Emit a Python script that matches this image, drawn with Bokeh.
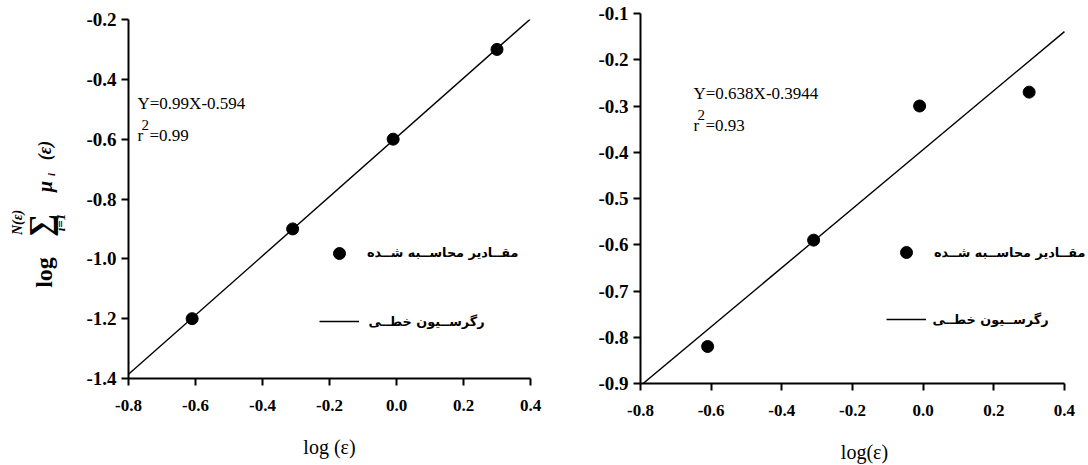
import math
from bokeh.plotting import figure
from bokeh.layouts import row, column
from bokeh.models import Range1d, Label, Legend, LegendItem, FixedTicker
from bokeh.embed import file_html
from bokeh.resources import INLINE

# ---------------- data ----------------
log_eps = [-0.61, -0.31, -0.01, 0.30]
left_vals = [-1.20, -0.90, -0.60, -0.30]
right_vals = [-0.82, -0.59, -0.30, -0.27]

left_slope, left_intercept = 0.99, -0.594
right_slope, right_intercept = 0.638, -0.3944

x_ticks = [-0.8, -0.6, -0.4, -0.2, 0.0, 0.2, 0.4]
left_y_ticks = [-1.4, -1.2, -1.0, -0.8, -0.6, -0.4, -0.2]
right_y_ticks = [-0.9, -0.8, -0.7, -0.6, -0.5, -0.4, -0.3, -0.2, -0.1]

left_eq = "Y=0.99X-0.594"
left_r2 = "=0.99"
right_eq = "Y=0.638X-0.3944"
right_r2 = "=0.93"
legend_points = "مقــادیر محاســبه شــده"
legend_line = "رگرســیون خطــی"
left_xlabel = "log (ε)"
right_xlabel = "log(ε)"

SERIF = "Liberation Serif"
ARABIC = "DejaVu Sans"


def style(p, xlabel, y_ticks):
    p.xgrid.visible = False
    p.ygrid.visible = False
    p.outline_line_color = None
    p.background_fill_color = "white"
    p.border_fill_color = "white"
    for ax in (p.xaxis[0], p.yaxis[0]):
        ax.axis_line_width = 2
        ax.axis_line_color = "black"
        ax.major_tick_line_width = 2
        ax.major_tick_line_color = "black"
        ax.minor_tick_line_color = None
        ax.major_tick_in = 0
        ax.major_tick_out = 7
        ax.major_label_text_font = SERIF
        ax.major_label_text_font_style = "bold"
        ax.major_label_text_color = "black"
    p.xaxis[0].major_label_text_font_size = "17px"
    p.yaxis[0].major_label_text_font_size = "19px"
    p.xaxis[0].major_label_standoff = 14
    p.yaxis[0].major_label_standoff = 5
    p.xaxis[0].ticker = FixedTicker(ticks=x_ticks)
    p.xaxis[0].bounds = (x_ticks[0], x_ticks[-1])
    p.xaxis[0].major_label_overrides = {t: f"{t:.1f}" for t in x_ticks}
    p.yaxis[0].ticker = FixedTicker(ticks=y_ticks)
    p.yaxis[0].major_label_overrides = {t: f"{t:.1f}" for t in y_ticks}
    p.xaxis[0].axis_label = xlabel
    p.xaxis[0].axis_label_text_font = SERIF
    p.xaxis[0].axis_label_text_font_style = "normal"
    p.xaxis[0].axis_label_text_font_size = "20px"
    p.xaxis[0].axis_label_standoff = 22
    p.xaxis[0].axis_label_text_color = "black"


def add_text(p, txt, x, y, size, style_="normal", font=SERIF, angle=0.0,
             align="left", baseline="alphabetic", units="screen"):
    p.add_layout(Label(x=x, y=y, x_units=units, y_units=units, text=txt,
                       text_font=font, text_font_size=size,
                       text_font_style=style_, text_color="black",
                       angle=angle, text_align=align, text_baseline=baseline))


def build(width, mb_left, mb_right, mb_top, mb_bottom, x_end, y_lo, y_hi,
          y_ticks, vals, slope, intercept, xlabel):
    p = figure(width=width, height=465, output_backend="svg",
               toolbar_location=None, x_range=Range1d(x_ticks[0], x_end),
               y_range=Range1d(y_lo, y_hi), min_border_left=mb_left,
               min_border_right=mb_right, min_border_top=mb_top,
               min_border_bottom=mb_bottom)
    style(p, xlabel, y_ticks)
    lx = [x_ticks[0], x_ticks[-1]]
    ly = [slope * v + intercept for v in lx]
    ln = p.line(lx, ly, line_color="black", line_width=1.4)
    sc = p.scatter(log_eps, vals, size=12, color="black")
    return p, sc, ln


def add_legend(p, sc, ln, loc, spacing, t1_x, t1_y, t2_x, t2_y):
    # glyphs via Legend; Persian labels as separate right-aligned texts
    p.add_layout(Legend(items=[LegendItem(label=" ", renderers=[sc]),
                               LegendItem(label=" ", renderers=[ln])],
                        location=loc, padding=0, margin=0, spacing=spacing,
                        glyph_width=40, glyph_height=30, label_height=20,
                        label_width=1, label_standoff=0,
                        border_line_color=None, background_fill_alpha=0))
    add_text(p, legend_points, t1_x, t1_y, "12.8px", "bold", ARABIC,
             0.0, "right", "middle")
    add_text(p, legend_line, t2_x, t2_y, "12.8px", "bold", ARABIC,
             0.0, "right", "middle")


# ---------------- y-axis label panel (data = canvas pixel coordinates) ----------------
ylab = figure(width=70, height=465, output_backend="svg", toolbar_location=None,
              x_range=Range1d(0, 70), y_range=Range1d(378, 19),
              x_axis_type=None, y_axis_type=None, min_border_left=0,
              min_border_right=0, min_border_top=19, min_border_bottom=87)
ylab.outline_line_color = None
ylab.xgrid.visible = False
ylab.ygrid.visible = False
rot = math.pi / 2
add_text(ylab, "log", 43, 272, "24px", "bold", SERIF, rot, "center", "middle", "data")
add_text(ylab, "∑", 39, 225, "32px", "bold", SERIF, rot, "center", "middle", "data")
add_text(ylab, "N(ε)", 17, 222, "14px", "bold italic", SERIF, rot, "center", "middle", "data")
add_text(ylab, "i=1", 60, 222, "13px", "bold italic", SERIF, rot, "center", "middle", "data")
add_text(ylab, "μ", 44, 186, "20px", "bold italic", SERIF, rot, "center", "middle", "data")
add_text(ylab, "i", 50, 174, "11px", "bold italic", SERIF, rot, "center", "middle", "data")
add_text(ylab, "(ε)", 44, 150, "18px", "bold italic", SERIF, rot, "center", "middle", "data")

# ---------------- left panel: frame x 128..530, y 19..378 ----------------
p1, sc1, ln1 = build(490, 58, 30, 19, 87, x_ticks[-1], -1.4, -0.2,
                     left_y_ticks, left_vals, left_slope, left_intercept,
                     left_xlabel)
FB1 = 378
add_text(p1, left_eq, 9, FB1 - 103, "17px")
add_text(p1, "r", 9, FB1 - 135, "17px")
add_text(p1, "2", 13, FB1 - 124, "15px")
add_text(p1, left_r2, 21, FB1 - 135, "17px")
add_legend(p1, sc1, ln1, (191, 42), 38, 518 - 128, FB1 - 252, 484 - 128, FB1 - 321)

# ---------------- right panel: frame x 640..1088, y 13..383 ----------------
p2, sc2, ln2 = build(528, 80, 0, 13, 82, 0.468, -0.9, -0.1,
                     right_y_ticks, right_vals, right_slope, right_intercept,
                     right_xlabel)
FB2 = 383
add_text(p2, right_eq, 53, FB2 - 93, "17px")
add_text(p2, "r", 53, FB2 - 125, "17px")
add_text(p2, "2", 57, FB2 - 114, "15px")
add_text(p2, right_r2, 65, FB2 - 125, "17px")
add_legend(p2, sc2, ln2, (246, 49), 37, 1085 - 640, FB2 - 252, 1048 - 640, FB2 - 319)

layout = row(column(ylab), column(p1), column(p2))
open("out.html", "w").write(file_html(layout, INLINE))
